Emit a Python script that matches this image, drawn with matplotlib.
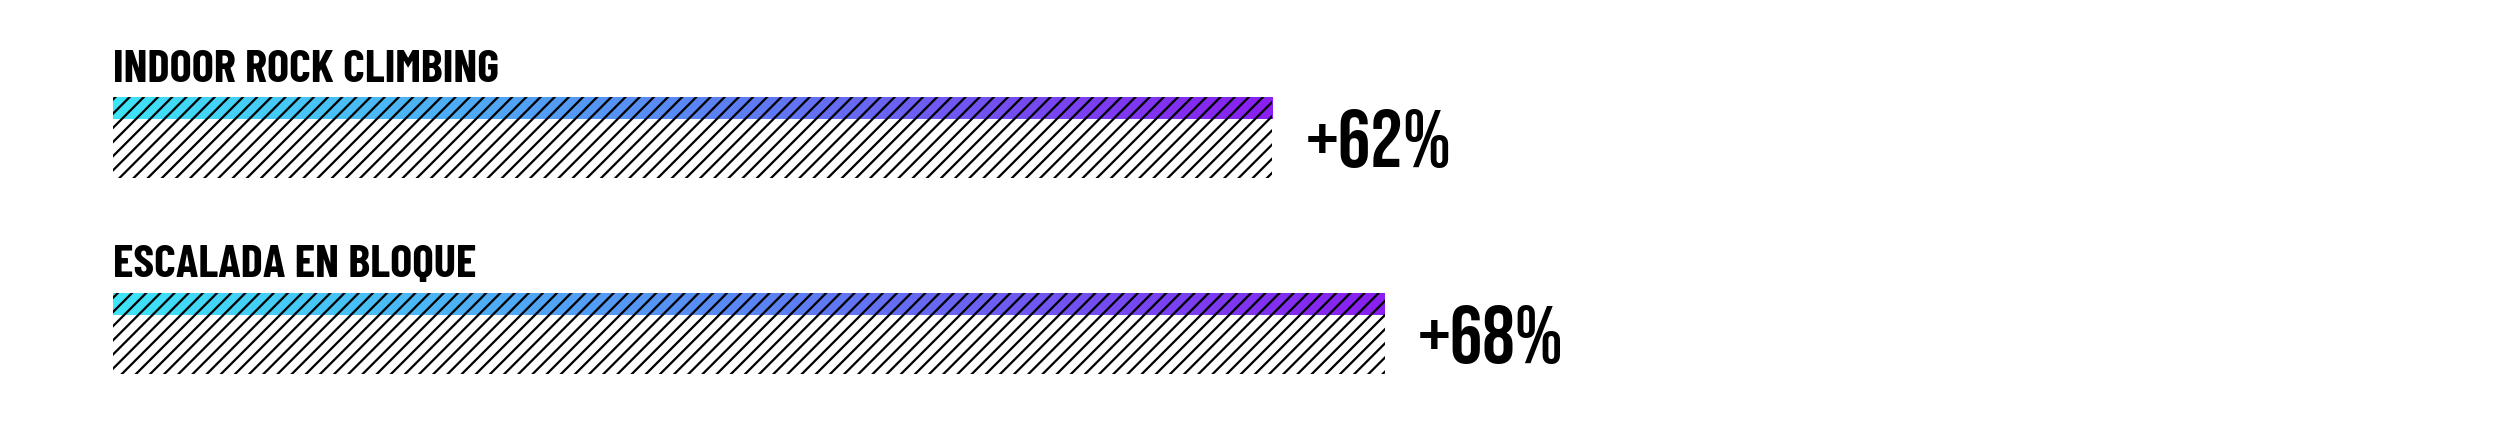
import matplotlib.pyplot as plt
from matplotlib.colors import LinearSegmentedColormap
from matplotlib.patches import Rectangle
import numpy as np

labels = ["INDOOR ROCK CLIMBING", "ESCALADA EN BLOQUE"]
values = [62, 68]
value_text = ["+62%", "+68%"]

label_font = ['Barlow Condensed', 'DejaVu Sans']
value_font = ['Bebas Neue', 'DejaVu Sans']

plt.rcParams['hatch.linewidth'] = 1.9
DPI = 85
W, H = 2501, 421
fig = plt.figure(figsize=(W / DPI, H / DPI), dpi=DPI)
left_px = 113
px_per_unit = 18.7
ax = fig.add_axes([left_px / W, 0, 1 - left_px / W, 1])
ax.set_xlim(0, (W - left_px) / px_per_unit)
row_px = 196
first_px = 137.5
ax.set_ylim((H - first_px) / row_px, -first_px / row_px)
ax.axis('off')

grad = LinearSegmentedColormap.from_list('g', ['#3ee4f8', '#5a86f4', '#8a1ff0'])
bar_h = 81 / row_px
band = 22 / row_px
g = np.linspace(0, 1, 256).reshape(1, -1)

for i, (lab, v, vt) in enumerate(zip(labels, values, value_text)):
    top = i - bar_h / 2
    ax.imshow(g, cmap=grad, aspect='auto', extent=[0, v, top + band, top],
              interpolation='bilinear', zorder=1)
    ax.add_patch(Rectangle((0, top), v, bar_h, fill=False, hatch='//',
                           edgecolor='black', linewidth=0, zorder=2))
    ax.text(0, top - 15.5 / row_px, lab, fontsize=39.5, fontweight='bold',
            family=label_font, va='baseline', ha='left')
    ax.annotate(vt, xy=(v, i + 29.5 / row_px), xytext=(33 * 72 / DPI, 0),
                textcoords='offset points', fontsize=69,
                family=value_font, va='baseline', ha='left')

fig.savefig('out.png', dpi=DPI)
